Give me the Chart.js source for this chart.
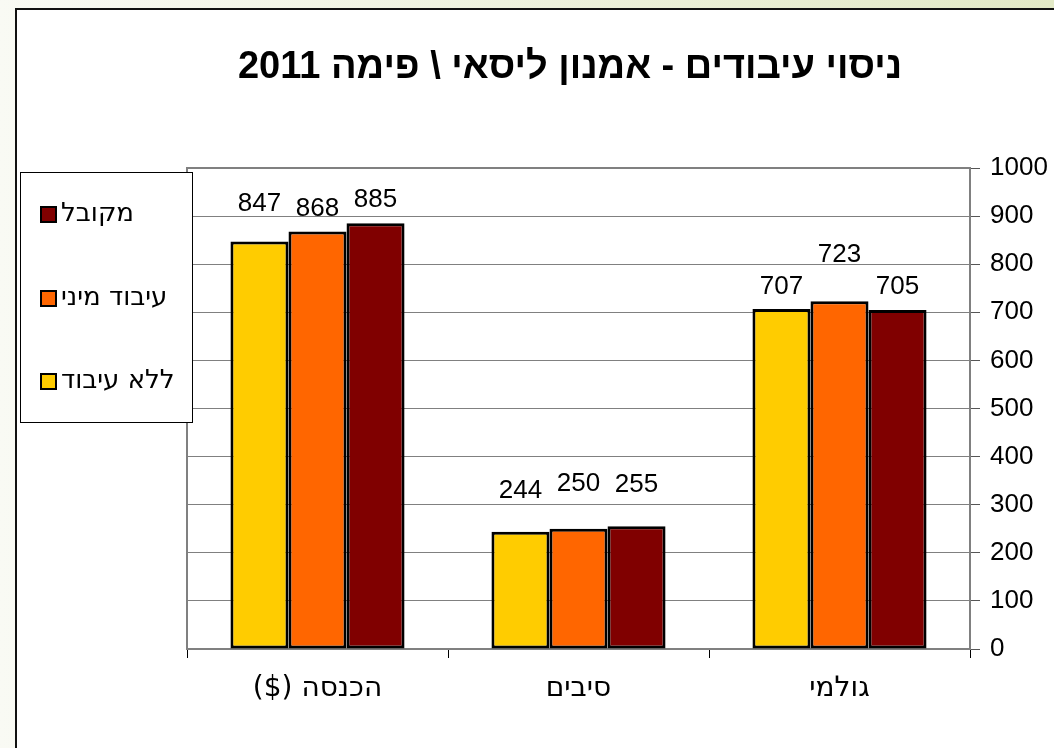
<!DOCTYPE html>
<html>
<head>
<meta charset="utf-8">
<script src="https://cdn.jsdelivr.net/npm/chart.js@4.4.1/dist/chart.umd.min.js"></script>
<style>
  body { margin: 0; overflow: hidden; }
  canvas { display: block; }
</style>
</head>
<body>
<canvas id="trialChart" width="1054" height="748" dir="rtl"></canvas>
<script>
// Chart data
const chartTitle = 'ניסוי עיבודים - אמנון ליסאי \\ פימה 2011';
const categories = ['הכנסה ($)', 'סיבים', 'גולמי'];
const seriesNames = ['ללא עיבוד', 'עיבוד מיני', 'מקובל'];
const noProcessing = [847, 244, 707];
const miniProcessing = [868, 250, 723];
const standardProcessing = [885, 255, 705];
const yTicks = [0, 100, 200, 300, 400, 500, 600, 700, 800, 900, 1000];

const seriesColors = ['#FFCC00', '#FF6600', '#800000'];
// how far each value label sits above its bar (px), per series
const labelLift = [[38, 41, 22], [23, 45, 46], [23, 42, 23]];

const numberFont = "'Liberation Sans', Arial, sans-serif";
const hebrewFont = "'DejaVu Sans', sans-serif";

// Page background, white chart frame, title and plot border
const framePlugin = {
    id: 'frame',
    beforeDraw(chart) {
        const ctx = chart.ctx;
        ctx.save();
        const g = ctx.createLinearGradient(0, 0, chart.width, 0);
        g.addColorStop(0, '#F9FAF4');
        g.addColorStop(1, '#E2E9C6');
        ctx.fillStyle = g;
        ctx.fillRect(0, 0, chart.width, chart.height);
        ctx.fillStyle = '#FFFFFF';
        ctx.fillRect(16, 8, chart.width, chart.height);
        ctx.strokeStyle = '#111';
        ctx.lineWidth = 2;
        ctx.beginPath();
        ctx.moveTo(16, chart.height);
        ctx.lineTo(16, 9);
        ctx.lineTo(chart.width, 9);
        ctx.stroke();

        // title
        ctx.font = 'bold 38px ' + numberFont;
        ctx.fillStyle = '#000';
        ctx.textAlign = 'center';
        ctx.textBaseline = 'middle';
        ctx.direction = 'rtl';
        ctx.fillText(chartTitle, 570, 68);
        ctx.restore();
    },
    beforeDatasetsDraw(chart) {
        const a = chart.chartArea;
        const ctx = chart.ctx;
        ctx.save();
        ctx.strokeStyle = '#808080';
        ctx.lineWidth = 2;
        ctx.strokeRect(a.left, a.top, a.right - a.left, a.bottom - a.top);
        ctx.restore();
    }
};

// Value labels above bars
const valueLabels = {
    id: 'valueLabels',
    afterDatasetsDraw(chart) {
        const ctx = chart.ctx;
        ctx.save();
        ctx.font = '26px ' + numberFont;
        ctx.fillStyle = '#000';
        ctx.textAlign = 'center';
        ctx.textBaseline = 'middle';
        chart.data.datasets.forEach((ds, i) => {
            chart.getDatasetMeta(i).data.forEach((bar, j) => {
                ctx.fillText(String(ds.data[j]), bar.x, bar.y - labelLift[i][j]);
            });
        });
        ctx.restore();
    }
};

// Legend box sitting over the left edge of the plot
const boxLegend = {
    id: 'boxLegend',
    afterDraw(chart) {
        const ctx = chart.ctx;
        ctx.save();
        ctx.fillStyle = '#FFFFFF';
        ctx.fillRect(20, 172, 173, 250);
        ctx.strokeStyle = '#000';
        ctx.lineWidth = 1;
        ctx.strokeRect(20.5, 172.5, 172, 250);
        const rows = [214, 298, 381];
        const order = [2, 1, 0];
        ctx.font = '26px ' + hebrewFont;
        ctx.textBaseline = 'middle';
        ctx.textAlign = 'left';
        ctx.direction = 'rtl';
        order.forEach((di, k) => {
            const ds = chart.data.datasets[di];
            const y = rows[k];
            ctx.fillStyle = ds.backgroundColor;
            ctx.fillRect(41, y - 7, 15, 15);
            ctx.lineWidth = 2;
            ctx.strokeStyle = '#000';
            ctx.strokeRect(41, y - 7, 15, 15);
            ctx.fillStyle = '#000';
            ctx.fillText(ds.label, 61, y);
        });
        ctx.restore();
    }
};

const makeSet = (idx, values) => ({
    label: seriesNames[idx],
    data: values,
    backgroundColor: seriesColors[idx],
    borderColor: '#000',
    borderWidth: 3,
    borderSkipped: false,
    categoryPercentage: 0.667,
    barPercentage: 1.0
});

new Chart(document.getElementById('trialChart'), {
    type: 'bar',
    data: {
        labels: categories,
        datasets: [
            makeSet(0, noProcessing),
            makeSet(1, miniProcessing),
            makeSet(2, standardProcessing)
        ]
    },
    options: {
        responsive: false,
        animation: false,
        layout: { padding: { left: 187, right: 0, top: 168, bottom: 0 } },
        plugins: {
            legend: { display: false },
            tooltip: { enabled: false },
            title: { display: false }
        },
        scales: {
            x: {
                grid: {
                    offset: true,
                    drawOnChartArea: false,
                    drawTicks: true,
                    tickLength: 9,
                    color: '#000'
                },
                border: { display: true, color: '#808080', width: 2 },
                ticks: {
                    color: '#000',
                    font: { family: hebrewFont, size: 28 },
                    padding: 14
                },
                afterFit(scale) { scale.height = 99; }
            },
            y: {
                position: 'right',
                min: 0,
                max: 1000,
                afterBuildTicks(scale) { scale.ticks = yTicks.map(v => ({ value: v })); },
                grid: {
                    color: '#808080',
                    tickColor: '#555',
                    tickLength: 10,
                    lineWidth: 1
                },
                border: { display: true, color: '#808080', width: 2 },
                ticks: {
                    color: '#000',
                    font: { family: numberFont, size: 26 },
                    padding: 10,
                    callback: v => String(v)
                },
                afterFit(scale) { scale.width = 84; }
            }
        }
    },
    plugins: [framePlugin, valueLabels, boxLegend]
});
</script>
</body>
</html>
